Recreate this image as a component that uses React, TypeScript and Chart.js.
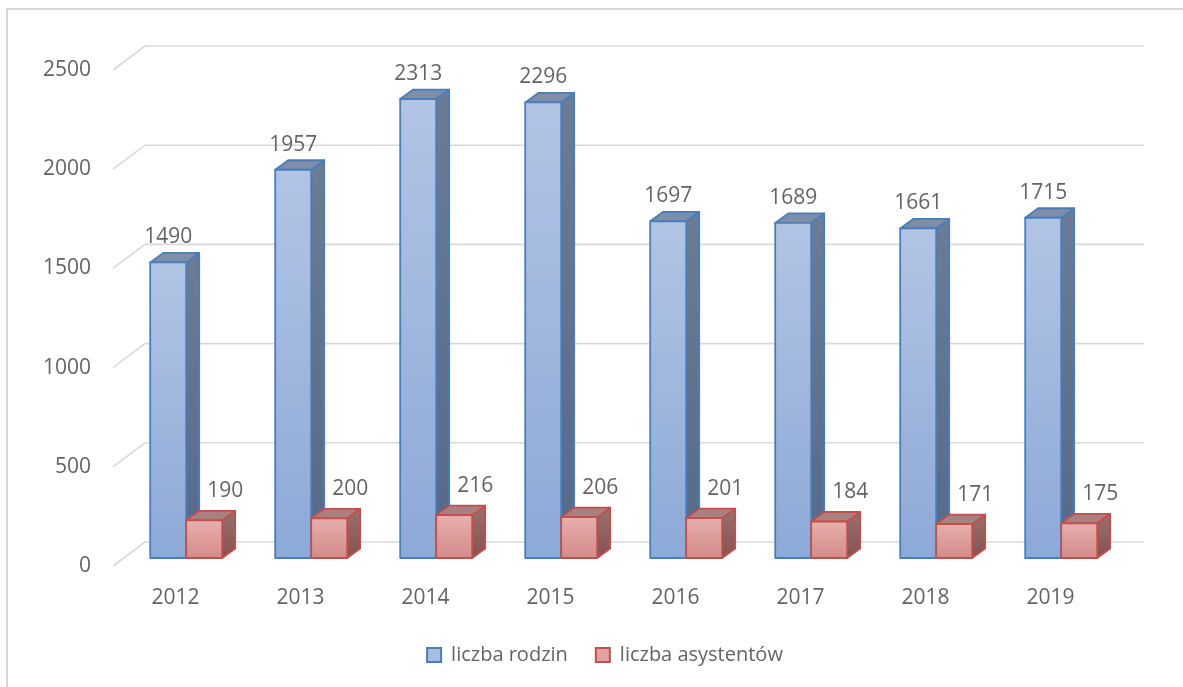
import { useEffect, useRef } from "react";
import { Chart, registerables } from "chart.js";

Chart.register(...registerables);

const years = ["2012", "2013", "2014", "2015", "2016", "2017", "2018", "2019"];
const liczbaRodzin = [1490, 1957, 2313, 2296, 1697, 1689, 1661, 1715];
const liczbaAsystentow = [190, 200, 216, 206, 201, 184, 171, 175];
const seriesNames = ["liczba rodzin", "liczba asystentów"];
const yMin = 0;
const yMax = 2500;
const yStep = 500;

const FONT = '"Open Sans", "Liberation Sans", sans-serif';
const TEXT = "#646464";
const GRID = "#d9d9d9";

const FRONT = { dx: 10.7, dy: -8 };
const DEPTH = { dx: 13, dy: -9.5 };
const WALL = { dx: 32, dy: -24 };

const STYLES = [
  {
    stroke: "#4a7ebb",
    front: ["#b1c4e4", "#8da9d7"],
    top: "#7e8da8",
    side: ["#6c7c96", "#566989"],
    lx: 0,
    ly: -25,
  },
  {
    stroke: "#c0504d",
    front: ["#e7afad", "#d38b8a"],
    top: "#a9807f",
    side: ["#98716f", "#87514f"],
    lx: 21,
    ly: -29,
  },
];

const threeD = {
  id: "threeD",
  beforeDatasetsDraw(chart: any) {
    const { ctx, chartArea, scales } = chart;
    const y = scales.y;
    ctx.save();
    ctx.strokeStyle = GRID;
    ctx.lineWidth = 1.6;
    for (let v = yMin; v <= yMax; v += yStep) {
      const py = y.getPixelForValue(v);
      ctx.beginPath();
      ctx.moveTo(chartArea.left, py);
      ctx.lineTo(chartArea.left + WALL.dx, py + WALL.dy);
      ctx.lineTo(chartArea.right + WALL.dx - 1, py + WALL.dy);
      ctx.stroke();
    }
    ctx.restore();
  },
  beforeDatasetDraw() {
    return false;
  },
  afterDatasetsDraw(chart: any) {
    const { ctx } = chart;
    const metas = chart.data.datasets.map((_: any, i: number) => chart.getDatasetMeta(i));
    const n = chart.data.labels.length;
    ctx.save();
    ctx.lineJoin = "round";
    for (let j = 0; j < n; j++) {
      metas.forEach((meta: any, i: number) => {
        const el = meta.data[j];
        const st = STYLES[i];
        const l = el.x - el.width / 2 + FRONT.dx;
        const r = el.x + el.width / 2 + FRONT.dx;
        const t = el.y + FRONT.dy;
        const b = el.base + FRONT.dy;
        let g = ctx.createLinearGradient(0, t + DEPTH.dy, 0, b);
        g.addColorStop(0, st.side[0]);
        g.addColorStop(1, st.side[1]);
        ctx.beginPath();
        ctx.moveTo(r, t);
        ctx.lineTo(r + DEPTH.dx, t + DEPTH.dy);
        ctx.lineTo(r + DEPTH.dx, b + DEPTH.dy);
        ctx.lineTo(r, b);
        ctx.closePath();
        ctx.fillStyle = g;
        ctx.fill();
        ctx.strokeStyle = st.stroke;
        ctx.lineWidth = 1.8;
        ctx.stroke();
        ctx.beginPath();
        ctx.moveTo(l, t);
        ctx.lineTo(l + DEPTH.dx, t + DEPTH.dy);
        ctx.lineTo(r + DEPTH.dx, t + DEPTH.dy);
        ctx.lineTo(r, t);
        ctx.closePath();
        ctx.fillStyle = st.top;
        ctx.fill();
        ctx.stroke();
        g = ctx.createLinearGradient(0, t, 0, b);
        g.addColorStop(0, st.front[0]);
        g.addColorStop(1, st.front[1]);
        ctx.beginPath();
        ctx.rect(l, t, r - l, b - t);
        ctx.fillStyle = g;
        ctx.fill();
        ctx.stroke();
      });
    }
    ctx.font = `21px ${FONT}`;
    ctx.fillStyle = TEXT;
    ctx.textAlign = "center";
    ctx.textBaseline = "middle";
    metas.forEach((meta: any, i: number) => {
      const st = STYLES[i];
      const data = chart.data.datasets[i].data;
      meta.data.forEach((el: any, j: number) => {
        const cx = el.x + FRONT.dx + st.lx;
        const cy = el.y + FRONT.dy + st.ly;
        ctx.fillText(String(data[j]), cx, cy);
      });
    });
    ctx.restore();
  },
};

export default function App() {
  const ref = useRef<HTMLCanvasElement | null>(null);
  useEffect(() => {
    if (!ref.current) return;
    const chart = new Chart(ref.current, {
      type: "bar",
      data: {
        labels: years,
        datasets: [
          {
            label: seriesNames[0],
            data: liczbaRodzin,
            backgroundColor: "#a9bde1",
            borderColor: "#4a7ebb",
            borderWidth: 2,
          },
          {
            label: seriesNames[1],
            data: liczbaAsystentow,
            backgroundColor: "#e0a3a2",
            borderColor: "#c0504d",
            borderWidth: 2,
          },
        ],
      },
      options: {
        responsive: false,
        animation: false,
        categoryPercentage: 0.576,
        barPercentage: 1,
        layout: { padding: { left: 27, top: 70, right: 0, bottom: 12 } },
        plugins: {
          tooltip: { enabled: false },
          legend: {
            position: "bottom",
            labels: {
              boxWidth: 14,
              boxHeight: 14,
              padding: 28,
              color: TEXT,
              font: { family: FONT, size: 20 },
            },
          },
        },
        scales: {
          x: {
            grid: { display: false, drawTicks: false },
            border: { display: false },
            ticks: { color: TEXT, font: { family: FONT, size: 21 }, padding: 19, maxRotation: 0 },
            afterFit(axis: any) {
              axis.height = 51;
            },
          },
          y: {
            min: yMin,
            max: yMax,
            grid: { display: false, drawTicks: false },
            border: { display: false },
            ticks: {
              stepSize: yStep,
              color: TEXT,
              font: { family: FONT, size: 21 },
              padding: 22,
              callback: (v: any) => String(v),
            },
            afterFit(axis: any) {
              axis.width = 86;
            },
          },
          yr: {
            position: "right",
            display: true,
            grid: { display: false, drawTicks: false },
            border: { display: false },
            ticks: { display: false },
            afterFit(axis: any) {
              axis.width = 70;
            },
          },
        },
      },
      plugins: [threeD],
    });
    return () => chart.destroy();
  }, []);
  return (
    <div style={{ position: "fixed", left: 0, top: 0, width: 1183, height: 687, overflow: "hidden", background: "#fff" }}>
      <div
        style={{
          position: "absolute",
          left: 6,
          top: 8,
          width: 1300,
          height: 800,
          border: "2px solid #d9d9d9",
        }}
      />
      <canvas ref={ref} width={1183} height={687} style={{ position: "absolute", left: 0, top: 0 }} />
    </div>
  );
}
